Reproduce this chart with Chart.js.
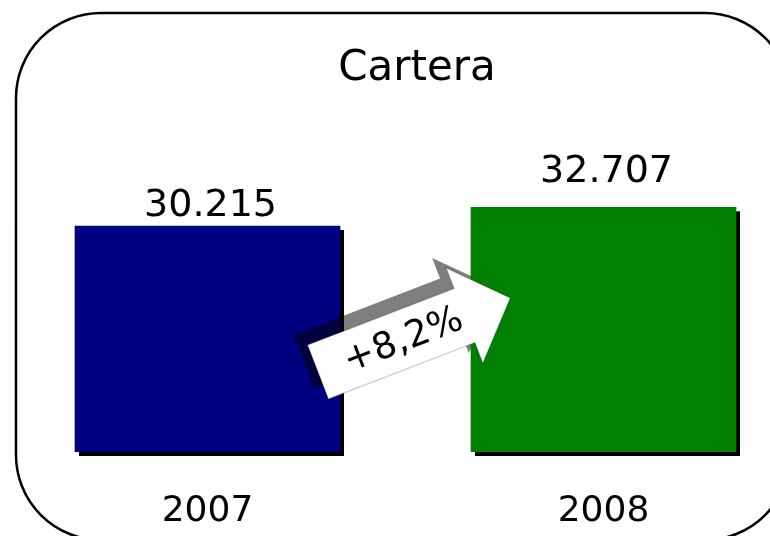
<!DOCTYPE html>
<html>
<head>
<meta charset="utf-8">
<script src="https://cdn.jsdelivr.net/npm/chart.js@4/dist/chart.umd.min.js"></script>
<style>
  html, body { margin: 0; padding: 0; background: #fff; }
  #wrap { width: 770px; height: 536px; }
</style>
</head>
<body>
<div id="wrap"><canvas id="myGraph"></canvas></div>
<script>
const categories = ["2007", "2008"];
const values = [30215, 32707];
const barColors = ["#000080", "#008000"];
const yMax = 45000;

const fontFamily = "'DejaVu Sans', Verdana, sans-serif";

function formatNumber(v) {
  return String(v).replace(/\B(?=(\d{3})+(?!\d))/g, ".");
}

const growth = (values[1] - values[0]) / values[0] * 100;
const growthText = "+" + growth.toFixed(1).replace(".", ",") + "%";

// rounded frame behind everything
const framePlugin = {
  id: "frame",
  beforeDraw(chart) {
    const ctx = chart.ctx;
    ctx.save();
    ctx.fillStyle = "#FFFFFF";
    ctx.fillRect(0, 0, chart.width, chart.height);
    ctx.beginPath();
    ctx.roundRect(16, 13, 774, 527, 85);
    ctx.lineWidth = 2.5;
    ctx.strokeStyle = "#000000";
    ctx.stroke();
    ctx.restore();
  },
};

// black drop shadow under each bar, value labels, and the growth arrow
const barExtras = {
  id: "barExtras",
  beforeDatasetsDraw(chart) {
    const ctx = chart.ctx;
    const meta = chart.getDatasetMeta(0);
    ctx.save();
    ctx.fillStyle = "#000000";
    meta.data.forEach((bar) => {
      const p = bar.getProps(["x", "y", "base", "width"], true);
      ctx.fillRect(p.x - p.width / 2 + 4, p.y + 4, p.width, p.base - p.y);
    });
    ctx.restore();
  },
  afterDatasetsDraw(chart, args, opts) {
    const ctx = chart.ctx;
    const meta = chart.getDatasetMeta(0);
    ctx.save();
    ctx.fillStyle = "#000000";
    ctx.font = "38px " + fontFamily;
    ctx.textAlign = "center";
    ctx.textBaseline = "alphabetic";
    meta.data.forEach((bar, i) => {
      ctx.fillText(formatNumber(values[i]), bar.x + 3, bar.y - opts.labelGap[i]);
    });
    ctx.restore();

    // arrow from the first bar to the second
    const angle = Math.atan2(-74, 192);
    const arrow = () => {
      ctx.beginPath();
      ctx.moveTo(0, -29);
      ctx.lineTo(157, -29);
      ctx.lineTo(157, -51);
      ctx.lineTo(206, 0);
      ctx.lineTo(157, 51);
      ctx.lineTo(157, 29);
      ctx.lineTo(0, 29);
      ctx.closePath();
    };
    const second = meta.data[1];
    const secondLeft = second.x - second.width / 2;

    // shadow sits behind the second bar
    ctx.save();
    ctx.beginPath();
    ctx.rect(0, 0, secondLeft, chart.height);
    ctx.clip();
    ctx.translate(318 - 14, 372 - 10);
    ctx.rotate(angle);
    arrow();
    ctx.fillStyle = "rgba(0,0,0,0.5)";
    ctx.fill();
    ctx.restore();

    ctx.save();
    ctx.translate(318, 372);
    ctx.rotate(angle);
    arrow();
    ctx.fillStyle = "#FFFFFF";
    ctx.fill();
    ctx.lineWidth = 1.5;
    ctx.strokeStyle = "rgba(0,0,0,0.18)";
    ctx.stroke();
    ctx.fillStyle = "#000000";
    ctx.font = "37px " + fontFamily;
    ctx.textAlign = "center";
    ctx.textBaseline = "middle";
    ctx.fillText(growthText, 91, 2);
    ctx.restore();
  },
};

new Chart(document.getElementById("myGraph"), {
  type: "bar",
  data: {
    datasets: [
      {
        data: categories.map((c, i) => ({ x: Number(c), y: values[i] })),
        backgroundColor: barColors,
        borderWidth: 0,
        barThickness: 265,
      },
    ],
  },
  options: {
    responsive: true,
    maintainAspectRatio: false,
    animation: false,
    layout: {
      padding: { left: 64, right: 0, top: 0, bottom: 6 },
    },
    plugins: {
      legend: { display: false },
      tooltip: { enabled: false },
      title: {
        display: true,
        text: "Cartera",
        color: "#000000",
        font: { family: fontFamily, size: 42, weight: "normal" },
        padding: { top: 44, bottom: 21 },
      },
      barExtras: { labelGap: [10, 25] },
    },
    scales: {
      x: {
        type: "linear",
        offset: false,
        min: 2006.6376,
        max: 2008.4204,
        grid: { display: false, drawTicks: false },
        border: { display: false },
        afterBuildTicks(axis) {
          axis.ticks = categories.map((c) => ({ value: Number(c) }));
        },
        afterFit(axis) {
          axis.height = 78;
        },
        ticks: {
          color: "#000000",
          padding: 38,
          font: { family: fontFamily, size: 36 },
          callback: (v) => String(v),
        },
      },
      y: {
        display: false,
        min: 0,
        max: yMax,
      },
    },
  },
  plugins: [framePlugin, barExtras],
});
</script>
</body>
</html>
